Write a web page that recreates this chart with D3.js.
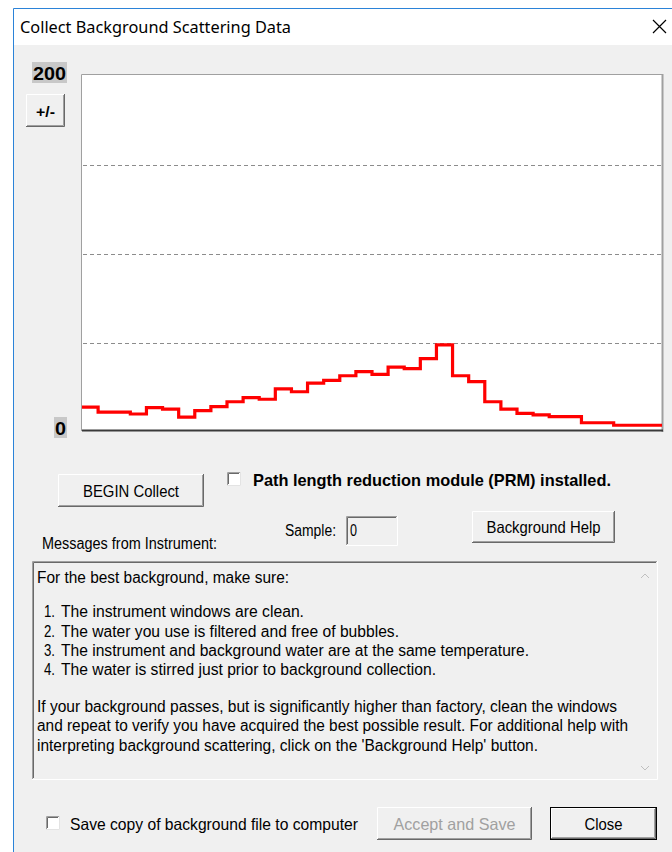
<!DOCTYPE html>
<html><head><meta charset="utf-8">
<script src="https://cdn.jsdelivr.net/npm/d3@7"></script>
<style>
html,body{margin:0;padding:0;background:#f0f0f0;overflow:hidden;}
svg{display:block;}
</style></head>
<body>
<svg id="c" width="672" height="852"></svg>
<script>
// ---- data ----
const bins = d3.range(1, 37); // 36 ring detectors
const values = [14.0, 11.2, 11.2, 10.1, 13.7, 12.9, 8.4, 12.0, 14.2, 17.0, 19.3, 18.4,
  24.2, 22.6, 27.5, 29.0, 31.6, 33.9, 32.4, 36.5, 35.6, 41.2, 48.9, 31.6,
  28.3, 17.0, 12.8, 10.5, 9.6, 8.6, 8.6, 5.2, 5.2, 3.8, 3.8, 3.8];
const yTickLabels = ["0", "200"];
const yMax = 200;
const gridValues = [50, 100, 150];
const title = "Collect Background Scattering Data";
const messageLines = [
  "For the best background, make sure:",
  "",
  "1.  The instrument windows are clean.",
  "2.  The water you use is filtered and free of bubbles.",
  "3.  The instrument and background water are at the same temperature.",
  "4.  The water is stirred just prior to background collection.",
  "",
  "If your background passes, but is significantly higher than factory, clean the windows",
  "and repeat to verify you have acquired the best possible result. For additional help with",
  "interpreting background scattering, click on the 'Background Help' button."
];

const svg = d3.select("#c");
const F = "'Liberation Sans', Arial, sans-serif";

function txt(x, y, s, opt = {}) {
  const t = svg.append("text").attr("x", x).attr("y", y).text(s)
    .attr("font-family", opt.family || F)
    .attr("font-size", opt.size || 14)
    .attr("font-weight", opt.weight || "normal")
    .attr("fill", opt.fill || "#000")
    .attr("text-anchor", opt.anchor || "start");
  if (opt.len) t.attr("textLength", opt.len).attr("lengthAdjust", "spacingAndGlyphs");
  return t;
}
function button(x, y, w, h, label, opt = {}) {
  const g = svg.append("g");
  g.append("rect").attr("x", x).attr("y", y).attr("width", w).attr("height", h).attr("fill", "#f0f0f0");
  if (opt.def) {
    g.append("rect").attr("x", x + 0.5).attr("y", y + 0.5).attr("width", w - 1).attr("height", h - 1)
      .attr("fill", "none").attr("stroke", "#000");
    x += 1; y += 1; w -= 2; h -= 2;
  }
  g.append("path").attr("d", `M${x+0.5},${y+h-1}V${y+0.5}H${x+w-1}`).attr("stroke", "#fff").attr("fill", "none");
  g.append("path").attr("d", `M${x},${y+h-0.5}H${x+w-0.5}V${y}`).attr("stroke", "#696969").attr("fill", "none");
  g.append("path").attr("d", `M${x+1},${y+h-1.5}H${x+w-1.5}V${y+1}`).attr("stroke", "#a0a0a0").attr("fill", "none");
  txt(x + w / 2 + (opt.dx || 0), y + h / 2 + 6, label, {anchor: "middle", size: opt.size || 16, fill: opt.fill || "#000", len: opt.len, weight: opt.weight});
}
function checkbox(x, y) {
  svg.append("rect").attr("x", x).attr("y", y).attr("width", 14).attr("height", 14).attr("fill", "#fff");
  svg.append("path").attr("d", `M${x+0.5},${y+13}V${y+0.5}H${x+13}`).attr("stroke", "#a0a0a0").attr("fill", "none");
  svg.append("path").attr("d", `M${x+1.5},${y+12}V${y+1.5}H${x+12}`).attr("stroke", "#696969").attr("fill", "none");
  svg.append("path").attr("d", `M${x},${y+13.5}H${x+13.5}V${y}`).attr("stroke", "#e3e3e3").attr("fill", "none");
}

// ---- window frame ----
svg.append("rect").attr("x", 0).attr("y", 0).attr("width", 672).attr("height", 852).attr("fill", "#fff");
svg.append("rect").attr("x", 14).attr("y", 9).attr("width", 658).attr("height", 843).attr("fill", "#f0f0f0");
svg.append("rect").attr("x", 14).attr("y", 9).attr("width", 658).attr("height", 36).attr("fill", "#fff");
svg.append("path").attr("d", "M13.5,852V8.5H672").attr("stroke", "#2b83d8").attr("fill", "none");
txt(20, 33, title, {family: "'Noto Sans', 'Open Sans', sans-serif", size: 16, len: 271});
svg.append("path").attr("d", "M653,20L666,33M666,20L653,33").attr("stroke", "#000").attr("stroke-width", 1.2);

// ---- chart ----
const x = d3.scaleLinear().domain([0, bins.length]).range([82, 662]);
const y = d3.scaleLinear().domain([0, yMax]).range([432, 76]);

svg.append("rect").attr("x", 81).attr("y", 74).attr("width", 582).attr("height", 357).attr("fill", "#fff");
svg.append("path").attr("d", "M81.5,431V74.5H662").attr("stroke", "#a0a0a0").attr("fill", "none");
svg.append("line").attr("x1", 662.5).attr("x2", 662.5).attr("y1", 74).attr("y2", 432)
  .attr("stroke", "#a0a0a0").attr("stroke-width", 2);

svg.append("g").selectAll("line").data(gridValues).join("line")
  .attr("x1", 83).attr("x2", 661)
  .attr("y1", d => Math.round(y(d)) + 0.5).attr("y2", d => Math.round(y(d)) + 0.5)
  .attr("stroke", "#8c8c8c").attr("stroke-dasharray", "4,3");

const pts = values.map((v, i) => [i, v]).concat([[values.length, values[values.length - 1]]]);
const line = d3.line().x(d => x(d[0])).y(d => y(d[1])).curve(d3.curveStepAfter);
svg.append("path").attr("d", line(pts)).attr("fill", "none")
  .attr("stroke", "#ff0000").attr("stroke-width", 3.2);

svg.append("line").attr("x1", 82).attr("x2", 663).attr("y1", 430.5).attr("y2", 430.5)
  .attr("stroke", "#3a3a3a").attr("stroke-width", 2);

// y tick labels
const tickVals = [0, yMax];
const offs = {0: -4, 200: -3};
tickVals.forEach((v, i) => {
  const cy = y(v) + offs[v];
  const lbl = yTickLabels[i];
  const w = lbl.length * 11 + 2;
  svg.append("rect").attr("x", 67 - w).attr("y", cy - 11).attr("width", w).attr("height", 21).attr("fill", "#c8c8c8");
  txt(66, cy + 7, lbl, {weight: "bold", size: 19, anchor: "end", len: lbl.length * 11});
});

button(26, 94, 39, 33, "+/-", {size: 15, weight: "bold", len: 19});

// ---- controls ----
button(58, 474, 146, 33, "BEGIN Collect", {size: 16.5, len: 96});
checkbox(227, 472);
txt(253, 486, "Path length reduction module (PRM) installed.", {weight: "bold", size: 17, len: 358});
txt(285, 536, "Sample:", {size: 16, len: 51});
svg.append("rect").attr("x", 346).attr("y", 516).attr("width", 51).attr("height", 29).attr("fill", "#f0f0f0");
svg.append("path").attr("d", "M346.5,545V516.5H397").attr("stroke", "#a0a0a0").attr("fill", "none");
svg.append("path").attr("d", "M347.5,544V517.5H396").attr("stroke", "#696969").attr("fill", "none");
svg.append("path").attr("d", "M346,545.5H397.5V516").attr("stroke", "#fff").attr("fill", "none");
txt(350, 536, "0", {size: 16, len: 7});
button(472, 511, 143, 32, "Background Help", {size: 16.5, len: 114});
txt(42, 549, "Messages from Instrument:", {size: 16, len: 175});

// message box
svg.append("rect").attr("x", 32).attr("y", 561).attr("width", 625).attr("height", 218).attr("fill", "#f0f0f0");
svg.append("path").attr("d", "M32.5,779V561.5H657").attr("stroke", "#a0a0a0").attr("fill", "none");
svg.append("path").attr("d", "M33.5,778V562.5H656").attr("stroke", "#696969").attr("fill", "none");
svg.append("path").attr("d", "M32,779.5H657.5V561").attr("stroke", "#fff").attr("fill", "none");
svg.append("rect").attr("x", 636).attr("y", 563).attr("width", 20).attr("height", 215).attr("fill", "#f0f0f0");
svg.append("path").attr("d", "M641,578L645,574L649,578").attr("stroke", "#bfbfbf").attr("fill", "none");
svg.append("path").attr("d", "M641,766L645,770L649,766").attr("stroke", "#bfbfbf").attr("fill", "none");

const lineY = [583, null, 617, 637, 656, 675, null, 712, 731, 751];
const lineLen = [252, 0, 259, 354, 484, 391, 0, 580, 591, 501];
messageLines.forEach((s, i) => {
  if (!s) return;
  const m = s.match(/^(\d\.)\s+(.*)$/);
  if (m) {
    txt(44, lineY[i], m[1], {size: 16, len: 11});
    txt(61, lineY[i], m[2], {size: 16, len: lineLen[i] - 16});
  } else {
    txt(37, lineY[i], s, {size: 16, len: lineLen[i]});
  }
});

// bottom row
checkbox(46, 816);
txt(70, 830, "Save copy of background file to computer", {size: 16.5, len: 288});
button(377, 807, 155, 33, "Accept and Save", {size: 16.5, fill: "#a0a0a0", len: 122});
button(550, 807, 107, 33, "Close", {size: 16.5, def: true, len: 38});
</script>
</body></html>
